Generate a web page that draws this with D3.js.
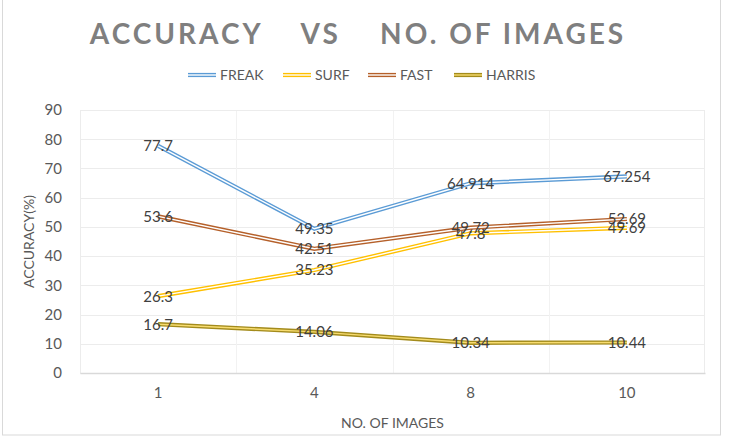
<!DOCTYPE html>
<html lang="en">
<head>
<script src="https://cdn.jsdelivr.net/npm/d3@7/dist/d3.min.js"></script>
<style>
html, body {
    margin: 0;
    padding: 0;
    background: #fff;
}
#chart {
    width: 731px;
    height: 439px;
}
text {
    font-family: Lato, "Open Sans", sans-serif;
}
</style>
</head>
<body>
<div id="chart"></div>
<script>
// chart data
var categories = ["1", "4", "8", "10"];
var seriesNames = ["FREAK", "SURF", "FAST", "HARRIS"];
var freak = [77.7, 49.35, 64.914, 67.254];
var surf = [26.3, 35.23, 47.8, 49.69];
var fast = [53.6, 42.51, 49.72, 52.69];
var harris = [16.7, 14.06, 10.34, 10.44];
var yTicks = [0, 10, 20, 30, 40, 50, 60, 70, 80, 90];

// outer colour / inner colour of the double lines
var outerColors = ["#5b9bd5", "#ffc000", "#b5602a", "#a38b1c"];
var innerColors = ["#ffffff", "#ffffff", "#ffffff", "#f7dc70"];

var width = 731, height = 439;
var margin = {left: 80, top: 110, right: 26, bottom: 66};
var plotWidth = width - margin.left - margin.right;
var plotHeight = height - margin.top - margin.bottom;

var svg = d3.select("#chart").append("svg")
    .attr("width", width)
    .attr("height", height);

// outer border of chart area
svg.append("rect")
    .attr("x", 2.5).attr("y", -1)
    .attr("width", 718).attr("height", 436)
    .attr("fill", "none")
    .attr("stroke", "#d9d9d9");

// title
svg.append("text")
    .attr("x", 358).attr("y", 44)
    .attr("text-anchor", "middle")
    .attr("fill", "#7f7f7f")
    .attr("font-size", 28)
    .attr("font-weight", "bold")
    .attr("letter-spacing", 3)
    .style("white-space", "pre")
    .text("ACCURACY    VS    NO. OF IMAGES");

var plot = svg.append("g").attr("transform", "translate(" + [margin.left, margin.top] + ")");

var x = d3.scaleBand().domain(categories).range([0, plotWidth]);
var y = d3.scaleLinear().domain([0, 90]).range([plotHeight, 0]);

// horizontal grid
plot.append("g")
    .selectAll("line")
    .data(yTicks.slice(1))
    .enter().append("line")
    .attr("x1", 0).attr("x2", plotWidth)
    .attr("y1", function(d){ return Math.round(y(d)) + 0.5; })
    .attr("y2", function(d){ return Math.round(y(d)) + 0.5; })
    .attr("stroke", "#ececec");

// vertical grid at band edges
plot.append("g")
    .selectAll("line")
    .data(categories.slice(1))
    .enter().append("line")
    .attr("x1", function(d){ return Math.round(x(d)) + 0.5; })
    .attr("x2", function(d){ return Math.round(x(d)) + 0.5; })
    .attr("y1", 0).attr("y2", plotHeight)
    .attr("stroke", "#f2f2f2");

// plot border
plot.append("rect")
    .attr("x", 0.5).attr("y", 0.5)
    .attr("width", plotWidth - 1).attr("height", plotHeight)
    .attr("fill", "none")
    .attr("stroke", "#ececec");

// y axis
var yAxis = plot.append("g")
    .call(d3.axisLeft(y).tickValues(yTicks).tickSize(0).tickPadding(18));
yAxis.select(".domain").remove();
yAxis.selectAll("text")
    .attr("fill", "#595959")
    .attr("font-size", 15)
    .style("font-family", "Lato, sans-serif");

// x axis
var xAxis = plot.append("g")
    .attr("transform", "translate(0," + plotHeight + ")")
    .call(d3.axisBottom(x).tickSize(0).tickPadding(14));
xAxis.select(".domain")
    .attr("stroke", "#d9d9d9")
    .attr("stroke-width", 1.5);
xAxis.selectAll("text")
    .attr("fill", "#595959")
    .attr("font-size", 15)
    .style("font-family", "Lato, sans-serif");

// axis titles
svg.append("text")
    .attr("transform", "translate(34," + (margin.top + plotHeight / 2) + ") rotate(-90)")
    .attr("text-anchor", "middle")
    .attr("fill", "#595959")
    .attr("font-size", 14)
    .text("ACCURACY(%)");

svg.append("text")
    .attr("x", margin.left + plotWidth / 2)
    .attr("y", 428)
    .attr("text-anchor", "middle")
    .attr("fill", "#595959")
    .attr("font-size", 14)
    .text("NO. OF IMAGES");

// series
var allSeries = [freak, surf, fast, harris].map(function(vals, i){
    return {name: seriesNames[i], values: vals, outer: outerColors[i], inner: innerColors[i]};
});

var line = d3.line()
    .x(function(d, i){ return x(categories[i]) + x.bandwidth() / 2; })
    .y(function(d){ return y(d); });

var series = plot.selectAll(".series")
    .data(allSeries)
    .enter().append("g")
    .attr("class", "series");

series.append("path")
    .attr("d", function(d){ return line(d.values); })
    .attr("fill", "none")
    .attr("stroke", function(d){ return d.outer; })
    .attr("stroke-width", 4.2);

series.append("path")
    .attr("d", function(d){ return line(d.values); })
    .attr("fill", "none")
    .attr("stroke", function(d){ return d.inner; })
    .attr("stroke-width", 1.4);

// data labels
series.selectAll(".lbl")
    .data(function(d){ return d.values; })
    .enter().append("text")
    .attr("class", "lbl")
    .attr("x", function(d, i){ return x(categories[i]) + x.bandwidth() / 2; })
    .attr("y", function(d){ return y(d); })
    .attr("dy", "0.36em")
    .attr("text-anchor", "middle")
    .attr("fill", "#404040")
    .attr("font-size", 15)
    .text(function(d){ return d; });

// legend
var legendX = [188, 283, 368, 454];
var legend = svg.selectAll(".legend")
    .data(allSeries)
    .enter().append("g")
    .attr("class", "legend")
    .attr("transform", function(d, i){ return "translate(" + [legendX[i], 75] + ")"; });

legend.append("line")
    .attr("x1", 0).attr("x2", 28)
    .attr("stroke", function(d){ return d.outer; })
    .attr("stroke-width", 4.2);
legend.append("line")
    .attr("x1", 0).attr("x2", 28)
    .attr("stroke", function(d){ return d.inner; })
    .attr("stroke-width", 1.4);
legend.append("text")
    .attr("x", 32)
    .attr("dy", "0.36em")
    .attr("fill", "#595959")
    .attr("font-size", 14)
    .text(function(d){ return d.name; });
</script>
</body>
</html>
